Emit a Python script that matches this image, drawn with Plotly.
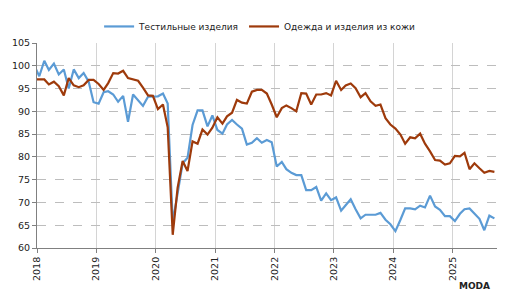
import pandas as pd
import plotly.graph_objects as go

# Monthly index values, Jan 2018 - Sep 2025 (preceded by Dec 2017, clipped by the axis range)
start_month = "2017-12-01"
textiles = [
    100.1,
    97.7, 101.1, 99.1, 100.5, 98.1, 99.2, 95.0, 99.2, 97.3, 98.4, 96.5, 92.0,
    91.7, 94.2, 94.4, 93.7, 92.1, 93.4, 87.7, 93.7, 92.5, 91.2, 93.2, 93.2,
    93.3, 93.9, 91.7, 65.6, 72.3, 78.6, 79.8, 87.0, 90.2, 90.2, 86.7, 89.1,
    85.9, 85.1, 87.1, 88.1, 87.1, 86.2, 82.7, 83.1, 84.1, 83.1, 83.7, 83.2,
    77.9, 78.9, 77.3, 76.5, 76.0, 76.0, 72.7, 72.7, 73.4, 70.4, 72.0, 70.5,
    71.1, 68.2, 69.4, 70.7, 68.5, 66.5, 67.3, 67.3, 67.3, 67.7, 66.2, 65.2,
    63.7, 66.2, 68.7, 68.7, 68.5, 69.3, 68.9, 71.5, 69.1, 68.4, 67.0, 67.0,
    65.9, 67.5, 68.5, 68.7, 67.5, 66.4, 63.9, 67.1, 66.5,
]
clothing = [
    97.0,
    97.0, 97.0, 95.9, 96.5, 95.5, 93.5, 97.3, 95.7, 95.3, 95.7, 96.9, 96.9,
    96.0, 94.7, 96.2, 98.4, 98.3, 98.9, 97.3, 97.0, 96.7, 95.2, 93.5, 93.4,
    90.5, 91.5, 86.5, 62.9, 73.2, 79.1, 76.9, 83.4, 82.9, 86.0, 84.9, 86.4,
    88.7, 87.3, 88.9, 89.7, 92.5, 91.9, 91.7, 94.3, 94.7, 94.7, 93.9, 91.5,
    88.7, 90.7, 91.3, 90.7, 90.0, 94.0, 93.9, 91.5, 93.7, 93.7, 94.0, 93.5,
    96.7, 94.7, 95.7, 96.1, 95.1, 93.1, 94.0, 92.2, 91.2, 91.5, 88.5, 87.1,
    86.2, 84.9, 82.9, 84.3, 84.1, 85.1, 82.9, 81.2, 79.3, 79.2, 78.3, 78.6,
    80.2, 80.1, 80.9, 77.3, 78.6, 77.5, 76.5, 76.9, 76.7,
]
series_names = ["Тестильные изделия", "Одежда и изделия из кожи"]
series_colors = ["#5B9BD5", "#9E3A0B"]
year_ticks = [f"{y}-01-01" for y in range(2018, 2026)]
year_labels = [str(y) for y in range(2018, 2026)]

dates = pd.date_range(start_month, periods=len(textiles), freq="MS") + pd.Timedelta(days=14)

font = "DejaVu Sans"
fig = go.Figure()
for name, vals, col in zip(series_names, [textiles, clothing], series_colors):
    fig.add_trace(go.Scatter(
        x=dates, y=vals, name=name, mode="lines",
        line=dict(color=col, width=2.2),
        cliponaxis=True,
    ))

fig.update_layout(
    width=514, height=298,
    margin=dict(l=33, r=17, t=25, b=50),
    paper_bgcolor="white", plot_bgcolor="white",
    font=dict(family=font, size=10, color="#222222"),
    showlegend=True,
    legend=dict(
        orientation="h", x=0.485, xanchor="center", y=1.01, yanchor="bottom",
        font=dict(family=font, size=9, color="#222222"),
        itemwidth=30, tracegroupgap=0, bgcolor="rgba(0,0,0,0)",
    ),
    xaxis=dict(
        type="date", range=["2018-01-01", "2025-10-01"],
        tickmode="array", tickvals=year_ticks, ticktext=year_labels,
        tickangle=-90, tickfont=dict(family=font, size=9.5, color="#222222"),
        showgrid=True, gridcolor="#d4d4d4", gridwidth=1,
        showline=True, linecolor="#808080", linewidth=1,
        ticks="outside", ticklen=4, tickcolor="#808080",
        zeroline=False, fixedrange=True,
    ),
    yaxis=dict(
        range=[60, 105], dtick=5, tick0=60,
        tickfont=dict(family=font, size=9.5, color="#222222"),
        showgrid=True, gridcolor="#bdbdbd", gridwidth=1, griddash="dash",
        showline=True, linecolor="#808080", linewidth=1,
        ticks="outside", ticklen=4, tickcolor="#808080",
        zeroline=False, fixedrange=True,
    ),
)

fig.add_annotation(
    xref="paper", yref="paper", x=0.99, y=-0.15, xanchor="right", yanchor="top",
    text="<b>MODA</b>", showarrow=False,
    font=dict(family="DejaVu Sans", size=9, color="#222222"),
)

fig.write_html("out.html")
